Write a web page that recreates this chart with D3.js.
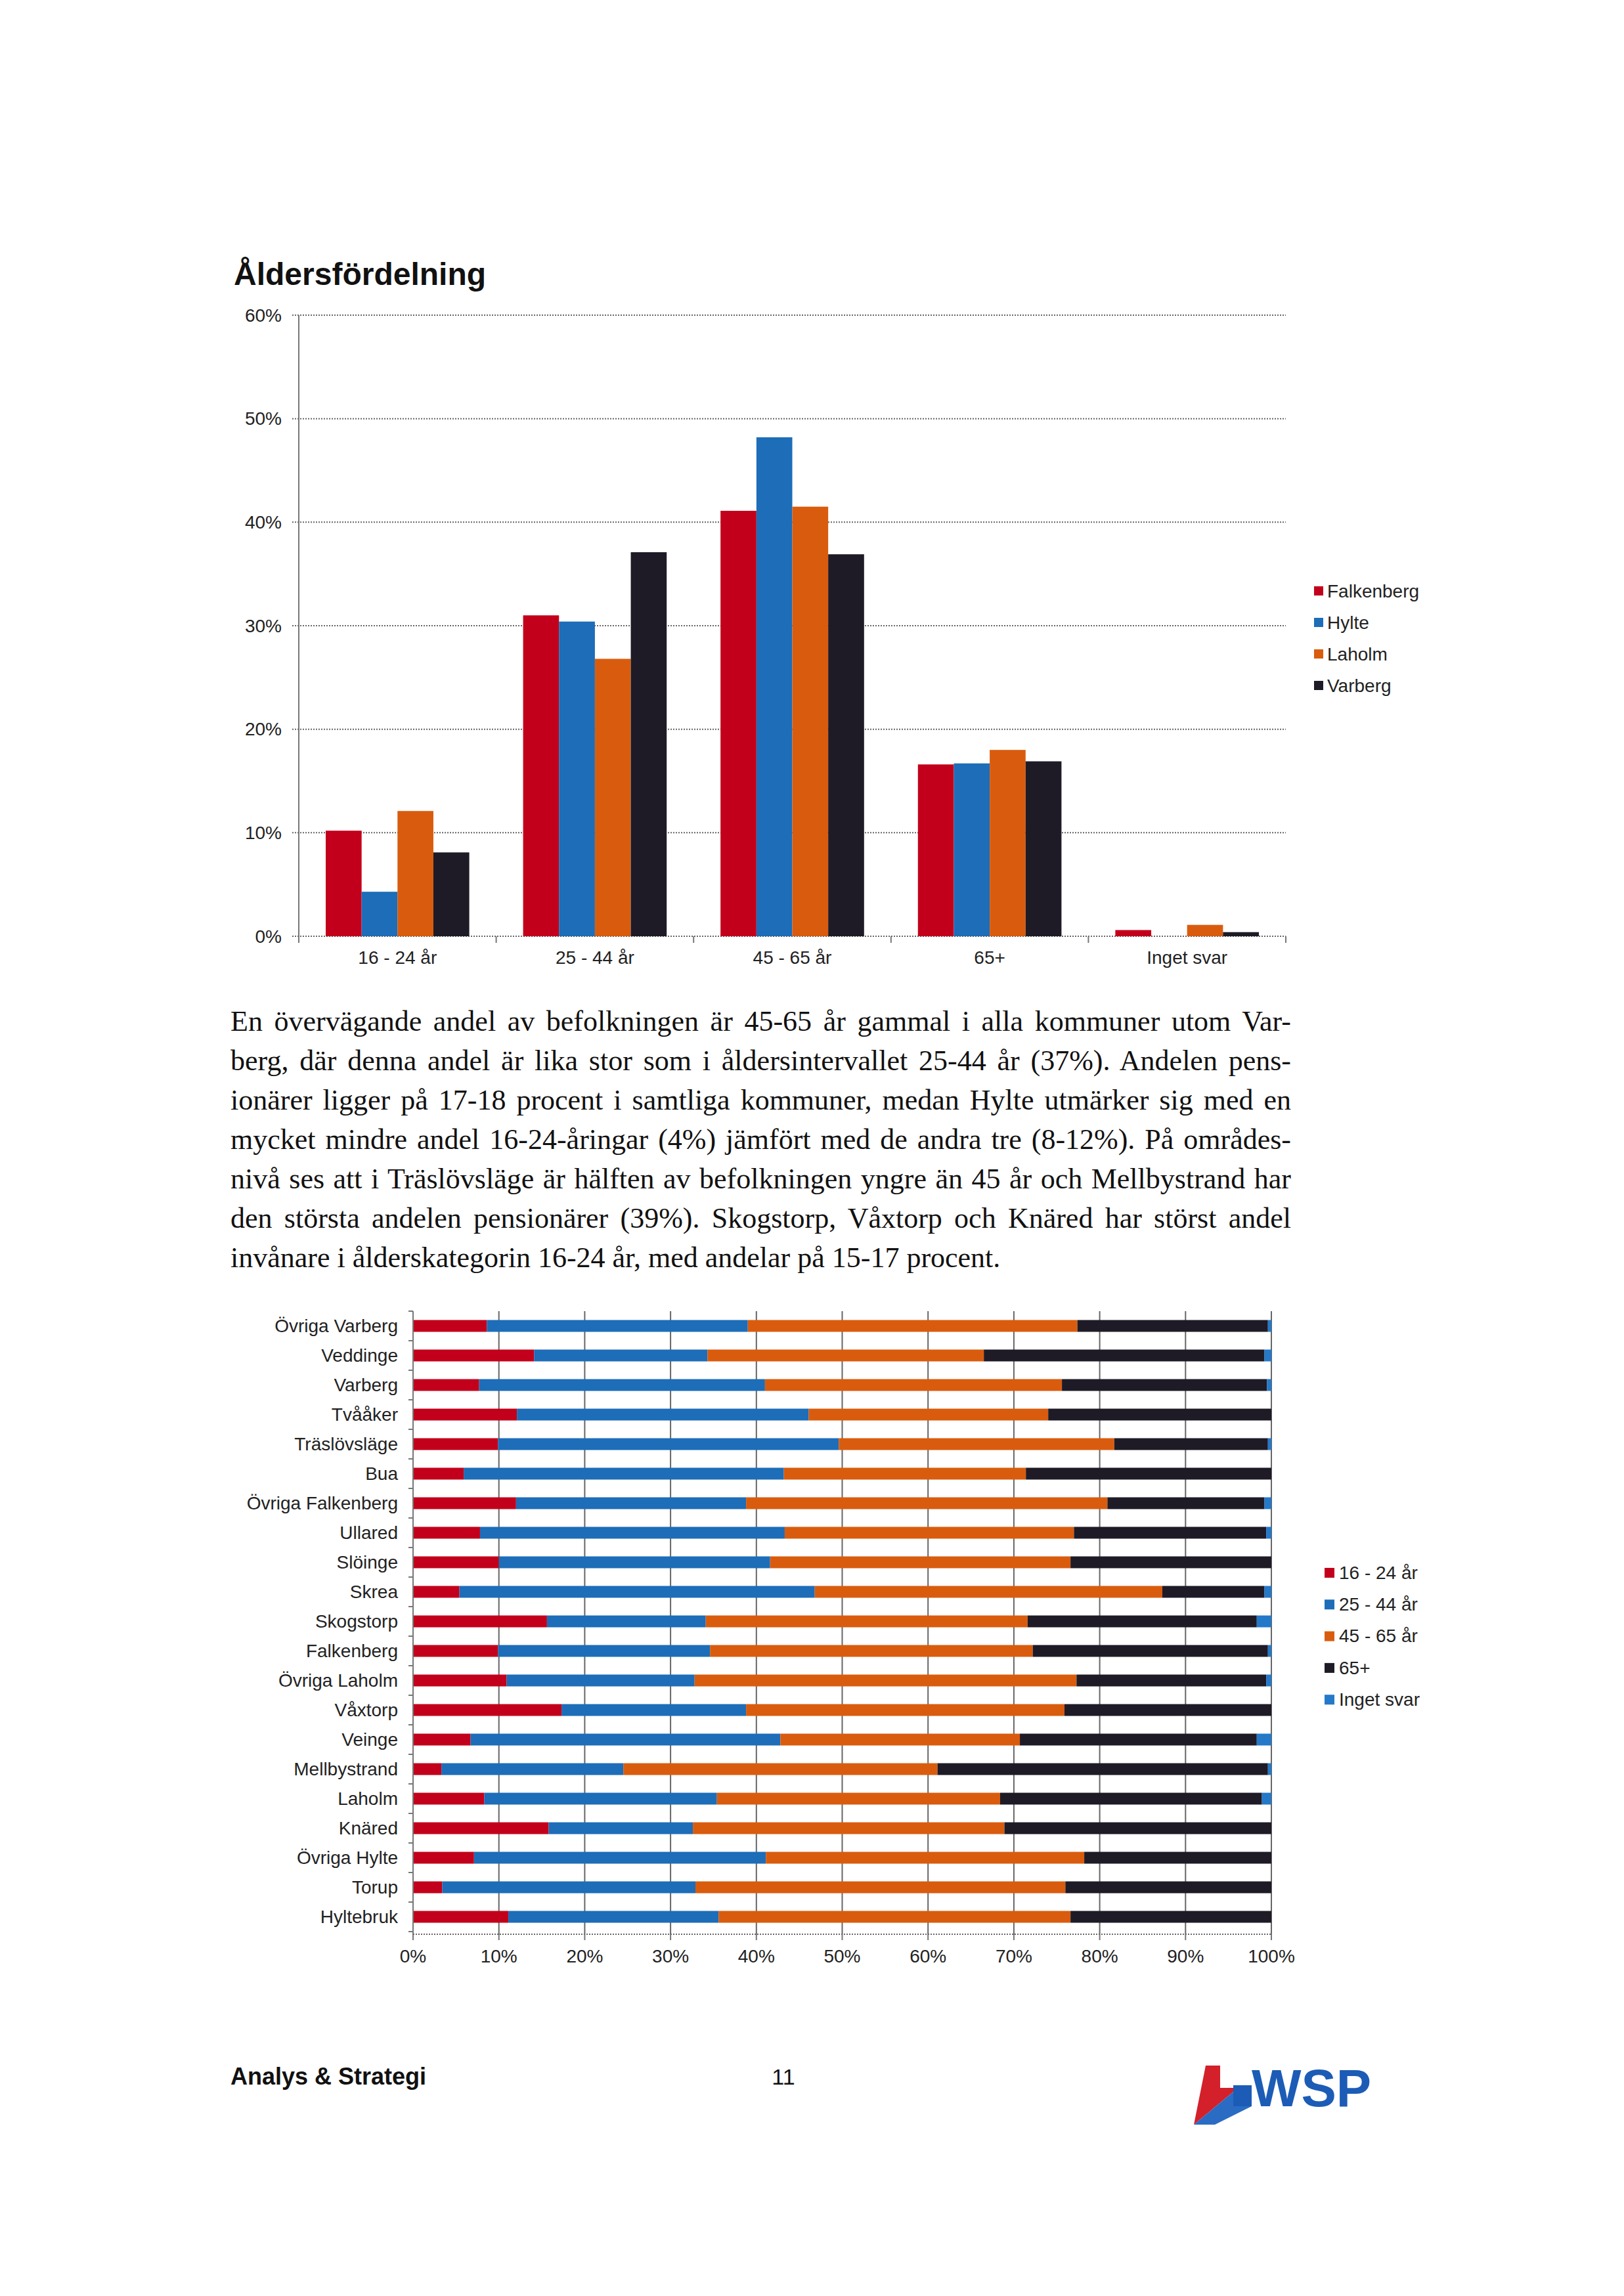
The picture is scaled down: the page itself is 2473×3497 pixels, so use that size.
<!DOCTYPE html>
<html>
<head>
<meta charset="utf-8">
<script src="https://cdn.jsdelivr.net/npm/d3@7"></script>
<style>
  body { margin: 0; background: #fff; }
  svg { display: block; font-family: "Liberation Sans", Arial, sans-serif; }
</style>
</head>
<body>
<svg width="2473" height="3497"></svg>
<script>
// top chart: age groups per kommun
const ageGroups = ["16 - 24 år", "25 - 44 år", "45 - 65 år", "65+", "Inget svar"];
const kommuner = ["Falkenberg", "Hylte", "Laholm", "Varberg"];
const falkenberg = [10.2, 31.0, 41.1, 16.6, 0.6];
const hylte      = [4.3, 30.4, 48.2, 16.7, 0.0];
const laholm     = [12.1, 26.8, 41.5, 18.0, 1.1];
const varberg    = [8.1, 37.1, 36.9, 16.9, 0.4];
const yTicks = [0, 10, 20, 30, 40, 50, 60];

// bottom chart: areas, share per age group (%)
const omraden = ["Övriga Varberg", "Veddinge", "Varberg", "Tvååker", "Träslövsläge", "Bua",
  "Övriga Falkenberg", "Ullared", "Slöinge", "Skrea", "Skogstorp", "Falkenberg", "Övriga Laholm",
  "Våxtorp", "Veinge", "Mellbystrand", "Laholm", "Knäred", "Övriga Hylte", "Torup", "Hyltebruk"];
const a16_24  = [8.6, 14.1, 7.7, 12.1, 9.9, 5.9, 12.0, 7.8, 10.0, 5.4, 15.6, 9.9, 10.9, 17.3, 6.7, 3.3, 8.3, 15.8, 7.1, 3.4, 11.1];
const a25_44  = [30.4, 20.2, 33.3, 34.0, 39.7, 37.3, 26.8, 35.5, 31.6, 41.4, 18.5, 24.7, 21.9, 21.5, 36.1, 21.2, 27.1, 16.8, 34.0, 29.5, 24.5];
const a45_65  = [38.4, 32.2, 34.6, 27.9, 32.1, 28.2, 42.1, 33.7, 35.0, 40.5, 37.5, 37.6, 44.5, 37.1, 27.9, 36.6, 33.0, 36.3, 37.1, 43.1, 41.0];
const a65plus = [22.2, 32.7, 23.9, 26.0, 17.9, 28.6, 18.3, 22.4, 23.4, 11.9, 26.7, 27.4, 22.1, 24.1, 27.6, 38.5, 30.5, 31.1, 21.8, 24.0, 23.4];
const inget   = [0.4, 0.8, 0.5, 0, 0.4, 0, 0.8, 0.6, 0, 0.8, 1.7, 0.4, 0.6, 0, 1.7, 0.4, 1.1, 0, 0, 0, 0];
const xTicks = [0, 10, 20, 30, 40, 50, 60, 70, 80, 90, 100];

const textLines = [
  "En övervägande andel av befolkningen är 45-65 år gammal i alla kommuner utom Var-",
  "berg, där denna andel är lika stor som i åldersintervallet 25-44 år (37%). Andelen pens-",
  "ionärer ligger på 17-18 procent i samtliga kommuner, medan Hylte utmärker sig med en",
  "mycket mindre andel 16-24-åringar (4%) jämfört med de andra tre (8-12%). På områdes-",
  "nivå ses att i Träslövsläge är hälften av befolkningen yngre än 45 år och Mellbystrand har",
  "den största andelen pensionärer (39%). Skogstorp, Våxtorp och Knäred har störst andel",
  "invånare i ålderskategorin 16-24 år, med andelar på 15-17 procent."
];

const colRed = "#c3001b", colBlue = "#1d6db8", colOrange = "#d95c0e", colBlack = "#1e1b27", colBlue2 = "#2479c9";

const svg = d3.select("svg");
svg.append("rect").attr("width", 2473).attr("height", 3497).attr("fill", "#fff");

// ---------- top chart ----------
svg.append("text").attr("x", 356).attr("y", 434)
  .attr("font-size", 48).attr("font-weight", "bold").attr("fill", "#111")
  .text("Åldersfördelning");

const gTop = svg.append("g");
const y = d3.scaleLinear().domain([0, 60]).range([1426, 480]);
const x0 = d3.scaleBand().domain(ageGroups).range([455, 1958]);
const x1 = d3.scaleBand().domain(kommuner).range([0, x0.bandwidth()]).paddingOuter(0.75);
const seriesVals = { Falkenberg: falkenberg, Hylte: hylte, Laholm: laholm, Varberg: varberg };
const kColor = d3.scaleOrdinal().domain(kommuner).range([colRed, colBlue, colOrange, colBlack]);

gTop.selectAll("line.grid").data(yTicks).enter().append("line")
  .attr("x1", 445).attr("x2", 1958)
  .attr("y1", d => y(d)).attr("y2", d => y(d))
  .attr("stroke", "#666").attr("stroke-width", 2).attr("stroke-dasharray", "2,2");

gTop.selectAll("text.yt").data(yTicks).enter().append("text")
  .attr("x", 429).attr("y", d => y(d)).attr("dy", "0.35em")
  .attr("text-anchor", "end").attr("font-size", 28).attr("fill", "#222")
  .text(d => d + "%");

ageGroups.forEach((a, i) => {
  gTop.selectAll(null).data(kommuner).enter().append("rect")
    .attr("x", k => x0(a) + x1(k))
    .attr("width", x1.bandwidth())
    .attr("y", k => y(seriesVals[k][i]))
    .attr("height", k => y(0) - y(seriesVals[k][i]))
    .attr("fill", k => kColor(k));
});

gTop.append("line").attr("x1", 455).attr("x2", 455).attr("y1", 480).attr("y2", 1426)
  .attr("stroke", "#777").attr("stroke-width", 2);
gTop.selectAll("line.ct").data(ageGroups.map(a => x0(a)).concat([1958])).enter().append("line")
  .attr("x1", d => d).attr("x2", d => d).attr("y1", 1426).attr("y2", 1436)
  .attr("stroke", "#777").attr("stroke-width", 2);
gTop.selectAll("text.cat").data(ageGroups).enter().append("text")
  .attr("x", d => x0(d) + x0.bandwidth() / 2).attr("y", 1468)
  .attr("text-anchor", "middle").attr("font-size", 28).attr("fill", "#222")
  .text(d => d);

const leg1 = gTop.selectAll("g.leg").data(kommuner).enter().append("g")
  .attr("transform", (d, i) => `translate(2001, ${900 + i * 48})`);
leg1.append("rect").attr("y", -7).attr("width", 14).attr("height", 14).attr("fill", d => kColor(d));
leg1.append("text").attr("x", 20).attr("dy", "0.35em").attr("font-size", 28).attr("fill", "#222").text(d => d);

// ---------- paragraph (justified by word spacing) ----------
textLines.forEach((t, i) => {
  const tx = svg.append("text").attr("x", 351).attr("y", 1570 + i * 60)
    .attr("font-family", "'Liberation Serif', 'Times New Roman', serif")
    .attr("font-size", 44).attr("fill", "#111").text(t);
  if (i < textLines.length - 1) {
    const len = tx.node().getComputedTextLength();
    const spaces = t.split(" ").length - 1;
    tx.attr("word-spacing", (1615 - len) / spaces);
  }
});

// ---------- bottom chart ----------
const gBot = svg.append("g");
const xs = d3.scaleLinear().domain([0, 100]).range([629, 1936]);
const ys = d3.scaleBand().domain(omraden).range([1997, 2942]).paddingInner(0.6).paddingOuter(0.3);
const rows = omraden.map((o, i) => ({
  omrade: o, "16 - 24 år": a16_24[i], "25 - 44 år": a25_44[i], "45 - 65 år": a45_65[i],
  "65+": a65plus[i], "Inget svar": inget[i]
}));
const stack = d3.stack().keys(ageGroups)(rows);
const aColor = d3.scaleOrdinal().domain(ageGroups).range([colRed, colBlue, colOrange, colBlack, colBlue2]);

gBot.selectAll("line.vg").data(xTicks.slice(1)).enter().append("line")
  .attr("x1", d => xs(d)).attr("x2", d => xs(d)).attr("y1", 1997).attr("y2", 2946)
  .attr("stroke", "#666").attr("stroke-width", 2);

gBot.selectAll("g.s").data(stack).enter().append("g")
  .attr("fill", d => aColor(d.key))
  .selectAll("rect").data(d => d).enter().append("rect")
  .attr("x", d => xs(d[0])).attr("width", d => xs(d[1]) - xs(d[0]))
  .attr("y", d => ys(d.data.omrade)).attr("height", ys.bandwidth());

gBot.append("line").attr("x1", 629).attr("x2", 629).attr("y1", 1997).attr("y2", 2946)
  .attr("stroke", "#777").attr("stroke-width", 2);
gBot.append("line").attr("x1", 629).attr("x2", 1936).attr("y1", 2946).attr("y2", 2946)
  .attr("stroke", "#666").attr("stroke-width", 2).attr("stroke-dasharray", "2,2");
gBot.selectAll("line.yt").data(d3.range(omraden.length + 1)).enter().append("line")
  .attr("x1", 622).attr("x2", 629)
  .attr("y1", d => 1997 + d * ys.step()).attr("y2", d => 1997 + d * ys.step())
  .attr("stroke", "#777").attr("stroke-width", 2);
gBot.selectAll("line.xt").data(xTicks).enter().append("line")
  .attr("x1", d => xs(d)).attr("x2", d => xs(d)).attr("y1", 2946).attr("y2", 2955)
  .attr("stroke", "#777").attr("stroke-width", 2);

gBot.selectAll("text.yl").data(omraden).enter().append("text")
  .attr("x", 606).attr("y", d => ys(d) + ys.bandwidth() / 2).attr("dy", "0.35em")
  .attr("text-anchor", "end").attr("font-size", 28).attr("fill", "#222").text(d => d);
gBot.selectAll("text.xl").data(xTicks).enter().append("text")
  .attr("x", d => xs(d)).attr("y", 2989)
  .attr("text-anchor", "middle").attr("font-size", 28).attr("fill", "#222").text(d => d + "%");

const leg2 = gBot.selectAll("g.leg2").data(ageGroups).enter().append("g")
  .attr("transform", (d, i) => `translate(2017, ${2395 + i * 48.3})`);
leg2.append("rect").attr("y", -7).attr("width", 15).attr("height", 15).attr("fill", d => aColor(d));
leg2.append("text").attr("x", 22).attr("dy", "0.35em").attr("font-size", 28).attr("fill", "#222").text(d => d);

// ---------- footer ----------
svg.append("text").attr("x", 351).attr("y", 3175).attr("font-size", 36)
  .attr("font-weight", "bold").attr("fill", "#111").text("Analys & Strategi");
svg.append("text").attr("x", 1193).attr("y", 3175).attr("font-size", 34)
  .attr("text-anchor", "middle").attr("fill", "#111").text("11");
const logo = svg.append("g");
logo.append("path").attr("d", "M1836,3146 L1858,3146 L1858,3180 L1878,3180 L1878,3186 L1818,3236 Z").attr("fill", "#d3202a");
logo.append("path").attr("d", "M1878,3176 L1906,3176 L1906,3208 L1878,3208 Z").attr("fill", "#1c5cb6");
logo.append("path").attr("d", "M1818,3236 L1878,3186 L1878,3208 L1906,3208 L1850,3236 Z").attr("fill", "#2a6cc4");
logo.append("text").attr("x", 1906).attr("y", 3208).attr("font-size", 80)
  .attr("font-weight", "bold").attr("fill", "#1c5cb6").text("WSP");
</script>
</body>
</html>
